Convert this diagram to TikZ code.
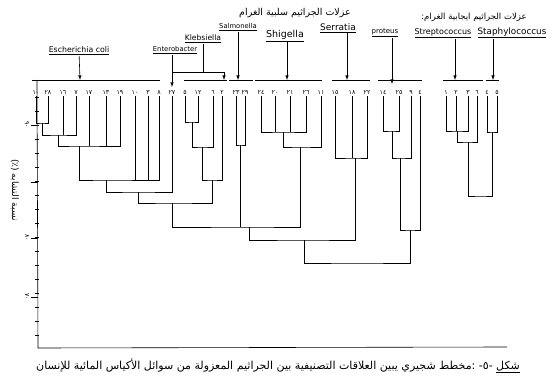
\documentclass[tikz,border=0pt]{standalone}
\usepackage{fontspec}
\setmainfont{DejaVu Sans}
\newfontfamily\arabicfont[Script=Arabic]{DejaVu Sans}
\TeXXeTstate=1
\usetikzlibrary{calc}

\begin{document}
\begin{tikzpicture}[x=1pt, y=-1pt, line width=0.6pt,
  leaf/.style={font=\arabicfont\fontsize{6.3}{7}\selectfont, inner sep=0.8pt, anchor=south},
  genus/.style={inner sep=0.6pt},
  arabic/.style={font=\arabicfont\fontsize{7}{8}\selectfont, inner sep=1pt},
  pointer/.style={-latex}]
\useasboundingbox (0,0) rectangle (550,385);

%--- leaves (strain numbers) ---
\foreach \x/\t/\n in {36/١٠/ec1, 48/٢٨/ec2, 63/١٦/ec3, 76/٧/ec4, 89/١٧/ec5,
  106/١٣/ec6, 120/١٩/ec7, 135/١٠/ec8, 148/٣/ec9, 159/٨/ec10, 172/٢٧/en1,
  185/٥/kl1, 198/١٢/kl2, 213/٦/kl3, 222/٢/kl4, 236/٢٣/sa1, 245/٢٩/sa2,
  261/٢٤/sh1, 275/٢٠/sh2, 290/٢١/sh3, 306/٢٦/sh4, 321/١١/sh5,
  335/١٥/se1, 352/١٨/se2, 367/٢٢/se3, 383/١٤/pr1, 399/٢٥/pr2, 411/٩/pr3, 420/٤/pr4,
  446/١/str1, 456/٢/str2, 468/٣/str3, 477/٦/str4, 487/٤/sta1, 497/٥/sta2}
  \node[leaf] (\n) at (\x,96) {\t};

%--- Escherichia coli + Enterobacter ---
\coordinate (mA) at (42,123);
\draw (ec1) |- (mA) -| (ec2);
\coordinate (mB) at (58,135);
\draw (mA) |- (mB) -| (ec4);
\draw (ec3) -- (ec3 |- mB);
\coordinate (mC) at (79,146);
\draw (mB) |- (mC) -| (ec7);
\foreach \n in {ec5,ec6} \draw (\n) -- (\n |- mC);
\coordinate (mD) at (106,180);
\draw (mC) |- (mD) -| (ec10);
\foreach \n in {ec8,ec9} \draw (\n) -- (\n |- mD);
\coordinate (mE) at (138,192);
\draw (mD) |- (mE) -| (en1);

%--- Klebsiella ---
\coordinate (mK1) at (192,122);
\draw (kl1) |- (mK1) -| (kl2);
\coordinate (mK2) at (202,147);
\draw (mK1) |- (mK2) -| (kl3);
\coordinate (mK3) at (212,180);
\draw (mK2) |- (mK3) -| (kl4);
\coordinate (mF) at (172,203);
\draw (mE) |- (mF) -| (mK3);

%--- Salmonella, Shigella ---
\coordinate (mS) at (240,145);
\draw (sa1) |- (mS) -| (sa2);
\coordinate (mH1) at (283,132);
\draw (sh1) |- (mH1) -| (sh4);
\foreach \n in {sh2,sh3} \draw (\n) -- (\n |- mH1);
\coordinate (mH2) at (300,147);
\draw (mH1) |- (mH2) -| (sh5);
\coordinate (mG) at (249,227);
\draw (mF) |- (mG) -| (mH2);
\draw (mS) -- (mS |- mG);

%--- Serratia, Proteus ---
\coordinate (mR) at (355,158);
\draw (se1) |- (mR) -| (se3);
\draw (se2) -- (se2 |- mR);
\coordinate (mI) at (304,240);
\draw (mG) |- (mI) -| (mR);
\coordinate (mP1) at (392,131);
\draw (pr1) |- (mP1) -| (pr2);
\coordinate (mP2) at (400,158);
\draw (mP1) |- (mP2) -| (pr3);
\coordinate (mP3) at (410,230);
\draw (mP2) |- (mP3) -| (pr4);
\coordinate (rootN) at (357,263);
\draw (mI) |- (rootN) -| (mP3);

%--- Gram positive ---
\coordinate (mT1) at (457,131);
\draw (str1) |- (mT1) -| (str3);
\draw (str2) -- (str2 |- mT1);
\coordinate (mT2) at (468,142);
\draw (mT1) |- (mT2) -| (str4);
\coordinate (mU) at (492,132);
\draw (sta1) |- (mU) -| (sta2);
\coordinate (rootP) at (481,196);
\draw (mT2) |- (rootP) -| (mU);

%--- genus labels ---
\node[genus, font=\fontsize{7.8}{8}\selectfont] (ecoli) at (79,51) {\underline{Escherichia coli}};
\node[genus, font=\fontsize{6.8}{7}\selectfont] (entero) at (175,50) {\underline{Enterobacter}};
\node[genus, font=\fontsize{7.6}{8}\selectfont] (klebs) at (203,39) {\underline{Klebsiella}};
\node[genus, font=\fontsize{6.8}{7}\selectfont] (salmo) at (238,27) {\underline{Salmonella}};
\node[genus, font=\fontsize{9.5}{10}\selectfont] (shig) at (285,36) {\underline{Shigella}};
\node[genus, font=\fontsize{9}{10}\selectfont] (serra) at (338,28) {\underline{Serratia}};
\node[genus, font=\fontsize{7}{8}\selectfont] (prot) at (385,33) {\underline{proteus}};
\node[genus, font=\fontsize{8}{9}\selectfont] (strep) at (443,33) {\underline{Streptococcus}};
\node[genus, font=\fontsize{8.8}{9}\selectfont] (staph) at (512,33) {\underline{Staphylococcus}};

\coordinate (ecB) at (80,80);
\coordinate (enB) at (172,87);
\coordinate (klB) at (224,80);
\coordinate (saB) at (238,80);
\coordinate (shB) at (287,80);
\coordinate (seB) at (347,80);
\coordinate (prB) at (392,84);
\coordinate (stB) at (455,80);
\coordinate (spB) at (493,80);
\draw[pointer] (ecoli) -- (ecB);
\draw[pointer] (entero.south -| enB) -- (enB);
\draw (klebs) -- (klebs |- 0,72) coordinate (klT);
\draw[pointer] (enB |- klT) -- (klB |- klT) -- (klB);
\draw[pointer] (salmo) -- (saB);
\draw[pointer] (shig.south -| shB) -- (shB);
\draw[pointer] (serra.south -| seB) -- (seB);
\draw[pointer] (prot.south -| prB) -- (prB);
\draw[pointer] (strep.south -| stB) -- (stB);
\draw[pointer] (staph.south -| spB) -- (spB);

% bars over the leaves
\draw (32,80) -- (160,80);
\draw (184,80) -- (227,80);
\draw (229,80) -- (253,80);
\draw (255,80) -- (322,80);
\draw (332,80) -- (370,80);
\draw (378,80) -- (422,80);
\draw (443,80) -- (483,80);
\draw (486,80) -- (499,80);

%--- axes ---
\draw (37,80) -- (38,348) -- (507,347);
\foreach \y in {97,111,...,335} \draw (35,\y) -- (39,\y);
\foreach \y/\t in {125/٩٠, 238/٨٠, 297/٧٠} {
  \draw (31,\y) -- (38,\y);
  \node[leaf, anchor=center, rotate=-90] at (27,\y) {\t};
}
\draw (31,182) -- (38,182);
\node[arabic, font=\arabicfont\fontsize{9}{10}\selectfont, rotate=-90] (ylab) at (15,190)
  {\beginR نسبة التشابه \beginL(٪)\endL\endR};

%--- titles ---
\node[arabic, font=\arabicfont\fontsize{9.5}{10}\selectfont] (gneg) at (295,13)
  {\beginR عزلات الجراثيم سلبية الغرام\endR};
\node[arabic, font=\arabicfont\fontsize{8.5}{9}\selectfont] (gpos) at (474,17)
  {\beginR عزلات الجراثيم ايجابية الغرام:\endR};
\node[arabic, font=\arabicfont\fontsize{11}{12}\selectfont] (capt) at (278,366)
  {\beginR\underline{شكل} \beginL-٥-\endL{} :مخطط شجيري يبين العلاقات التصنيفية بين الجراثيم المعزولة من سوائل الأكياس المائية للإنسان\endR};
\end{tikzpicture}
\end{document}
